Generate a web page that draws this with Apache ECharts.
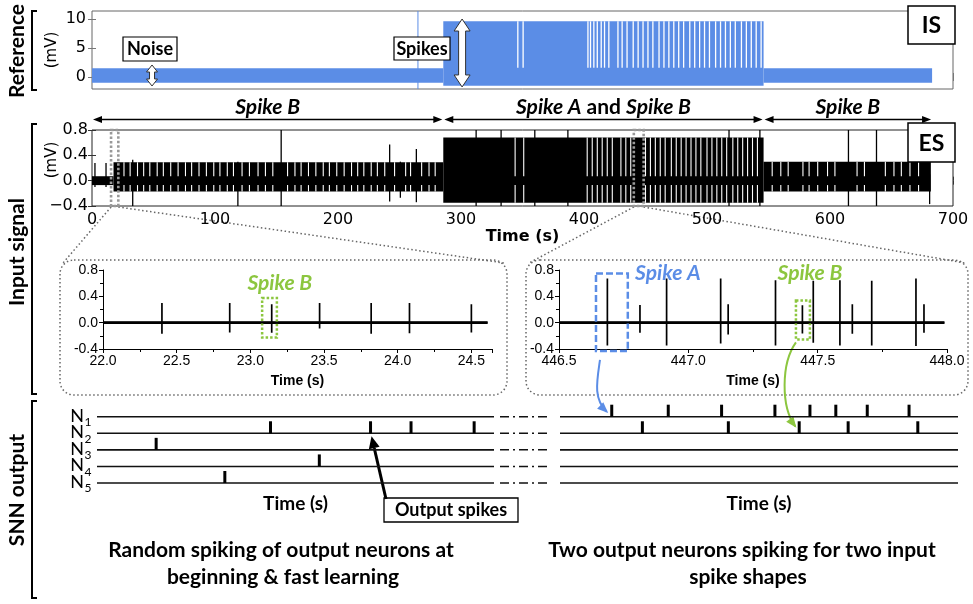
<!DOCTYPE html>
<html><head><meta charset="utf-8">
<script src="https://cdn.jsdelivr.net/npm/echarts@6/dist/echarts.min.js"></script>
<style>html,body{margin:0;padding:0;background:#fff}#c{width:973px;height:604px}</style>
</head><body><div id="c"></div>
<script>
// ================= DATA =================
// Reference signal (IS), time in s, value in mV: [tStart, tEnd, low, high]
const isNoise = [[0, 285.6, -1.0, 1.5], [546, 683, -1.0, 1.5]];
const isBurst = [[285.6, 546, -1.5, 9.6]];
const isGaps = [346.2, 350.5, 403.2, 405.3, 408.0, 410.8, 414.0, 416.7, 420.2, 427.6,
  431, 435, 440, 444, 448, 452, 456, 461, 465, 469, 473, 477, 481, 486, 490, 494,
  498, 502, 507, 511, 515, 519, 523, 528, 532, 536, 540, 544];
const isMarkers = [265];
const isArrows = [[48.8, -1.55, 2.07], [300.9, -1.72, 10.0]];   // [t, low, high]

// Electrode signal (ES), mV
const esQuiet = [[0, 17.5, -0.07, 0.07]];
const esBands = [[17.5, 285.6, -0.17, 0.29], [285.6, 546, -0.35, 0.68], [546, 682, -0.17, 0.30]];
const esGaps = [26, 31, 37, 42, 47, 53, 58, 64, 70, 76, 81, 87, 93, 99, 104, 110, 115, 122,
  128, 135, 141, 147, 159, 165, 170, 176, 182, 188, 193, 199, 205, 211, 216, 221, 227, 232,
  238, 246, 255, 259, 268, 274, 279,
  344, 351, 402.6, 406.7, 410.8, 414.8, 418.9, 423,
  430, 434, 438, 450, 454, 458, 462, 466, 471, 475, 479, 483, 487, 491, 495, 500, 504,
  508, 512, 516, 521, 525, 529, 533, 537, 541,
  553, 560, 566, 578, 583, 590, 598, 604, 622, 628, 645, 652, 658, 665, 672];
const esSpikes = [[2.4, 0.28, -0.10], [11.4, 0.28, -0.10], [33.1, 0.33, -0.40], [118.6, 0.30, -0.40],
  [153.8, 0.80, -0.40], [242, 0.57, -0.33], [250.7, 0.30, -0.27], [263.7, 0.50, -0.34],
  [312.3, 0.80, -0.40], [332.6, 0.80, -0.40], [360, 0.80, -0.40], [386.9, 0.80, -0.40],
  [517.9, 0.80, -0.40], [543, 0.80, -0.40], [615, 0.80, -0.40], [637.8, 0.80, -0.40], [681, 0.10, -0.37]];
const esZoomMarks = [[15.5, 21.4], [440.5, 448.5]];

// Input-class periods
const periodBounds = [0, 285.6, 546, 683];
const periodLabels = ['{i|Spike B}', '{i|Spike A}{n| and }{i|Spike B}', '{i|Spike B}'];

// Zoomed traces: spikes [t, peak, trough]
const zoomLRange = [22.0, 24.61];
const zoomLSpikes = [[22.40, 0.30, -0.17], [22.86, 0.30, -0.15], [23.145, 0.28, -0.155], [23.47, 0.30, -0.09],
  [23.82, 0.30, -0.17], [24.08, 0.30, -0.16], [24.50, 0.28, -0.15]];
const zoomLBoxes = [[23.08, 23.18, -0.225, 0.375]];
const zoomLLabels = [[23.20, 0.60]];
const zoomLTexts = ['Spike B'];

const zoomRRange = [446.5, 447.99];
const zoomRSpikes = [[446.687, 0.67, -0.345], [446.813, 0.27, -0.155], [446.916, 0.67, -0.345],
  [447.125, 0.67, -0.315], [447.154, 0.28, -0.18], [447.337, 0.645, -0.345], [447.441, 0.265, -0.165],
  [447.483, 0.635, -0.305], [447.586, 0.645, -0.345], [447.634, 0.28, -0.17], [447.709, 0.635, -0.345],
  [447.880, 0.67, -0.355], [447.911, 0.28, -0.155]];
const zoomRBoxes = [[446.643, 446.766, -0.43, 0.745], [447.416, 447.470, -0.255, 0.335]];
const zoomRLabels = [[446.921, 0.75], [447.47, 0.75]];
const zoomRTexts = ['Spike A', 'Spike B'];

// SNN output raster (time in arbitrary units 0-100), [t, neuron]
const neurons = [1, 2, 3, 4, 5];
const neuronNames = ['1', '2', '3', '4', '5'];
const snnRange = [0, 100];
const snnLeftSpikes = [[43.7, 2], [68.9, 2], [79.1, 2], [95.0, 2], [14.9, 3], [56.0, 4], [32.2, 5]];
const snnRightSpikes = [[13.0, 1], [27.2, 1], [40.6, 1], [54.0, 1], [62.8, 1], [69.3, 1], [77.2, 1], [87.7, 1],
  [20.7, 2], [42.3, 2], [60.1, 2], [72.4, 2], [89.9, 2]];

// ================= STYLE =================
const BLUE = '#5b8de6', GREEN = '#8cc63f';
const CAL = 'Lato';
const arrowSizes = [{shaft: 5, head: 11, len: 7}, {shaft: 7, head: 16, len: 12}];
const zoomBoxStyles = {L: [{stroke: GREEN, dash: [2.5, 2]}], R: [{stroke: BLUE, dash: [7, 3]}, {stroke: GREEN, dash: [2.5, 2]}]};
const labelColors = {L: [GREEN], R: [BLUE, GREEN]};

// ================= HELPERS =================
function rectSeries(ax, data, style, extra) {
  return Object.assign({
    type: 'custom', xAxisIndex: ax, yAxisIndex: ax, silent: true, data: data,
    encode: {x: [0, 1], y: [2, 3]},
    renderItem: function (p, api) {
      const a = api.coord([api.value(0), api.value(3)]);
      const b = api.coord([api.value(1), api.value(2)]);
      const st = typeof style === 'function' ? style(p.dataIndex) : style;
      return {type: 'rect', shape: {x: a[0], y: a[1], width: b[0] - a[0], height: b[1] - a[1]}, style: Object.assign({}, st)};
    }
  }, extra || {});
}
function vlineSeries(ax, data, style) {
  return {
    type: 'custom', xAxisIndex: ax, yAxisIndex: ax, silent: true, data: data,
    encode: {x: 0, y: [1, 2]},
    renderItem: function (p, api) {
      const a = api.coord([api.value(0), api.value(1)]);
      const b = api.coord([api.value(0), api.value(2)]);
      return {type: 'line', shape: {x1: a[0], y1: a[1], x2: b[0], y2: b[1]}, style: Object.assign({}, style)};
    }
  };
}
function traceData(range, spikes) {
  const pts = [[range[0], 0]];
  spikes.forEach(s => { pts.push([s[0], 0], [s[0], s[1]], [s[0], s[2]], [s[0], 0]); });
  pts.push([range[1], 0]);
  return pts;
}
function labelSeries(ax, data, texts, colors) {
  return {
    type: 'custom', xAxisIndex: ax, yAxisIndex: ax, silent: true, data: data, encode: {x: 0, y: 1},
    renderItem: function (p, api) {
      const c = api.coord([api.value(0), api.value(1)]);
      return {type: 'text', x: c[0], y: c[1], style: {text: texts[p.dataIndex], fill: colors[p.dataIndex],
        font: 'italic bold 21px ' + CAL, align: 'center', verticalAlign: 'middle'}};
    }
  };
}
function snnLines(ax) {
  return {
    type: 'custom', xAxisIndex: ax, yAxisIndex: ax, silent: true, data: neurons.map(n => [snnRange[0], n]),
    encode: {x: 0, y: 1},
    renderItem: function (p, api) {
      const a = api.coord([snnRange[0], api.value(1)]);
      const b = api.coord([snnRange[1], api.value(1)]);
      return {type: 'line', shape: {x1: a[0], y1: a[1], x2: b[0], y2: b[1]}, style: {stroke: '#111', lineWidth: 1.6}};
    }
  };
}
function snnSpikes(ax, data) {
  return {
    type: 'custom', xAxisIndex: ax, yAxisIndex: ax, silent: true, data: data, encode: {x: 0, y: 1},
    renderItem: function (p, api) {
      const a = api.coord([api.value(0), api.value(1)]);
      return {type: 'line', shape: {x1: a[0], y1: a[1], x2: a[0], y2: a[1] - 12}, style: {stroke: '#000', lineWidth: 3}};
    }
  };
}
function neuronLabels(ax) {
  return {
    type: 'custom', xAxisIndex: ax, yAxisIndex: ax, silent: true, data: neurons.map(n => [snnRange[0], n]),
    encode: {x: 0, y: 1},
    renderItem: function (p, api) {
      const a = api.coord([snnRange[0], api.value(1)]);
      const x = a[0] - 13, y = a[1];
      return {type: 'group', children: [
        {type: 'text', x: x, y: y - 1, style: {text: 'N', font: '18px ' + CAL, fill: '#000', align: 'right', verticalAlign: 'middle'}},
        {type: 'text', x: x + 0.5, y: y + 5.5, style: {text: neuronNames[p.dataIndex], font: '12px ' + CAL, fill: '#000', align: 'left', verticalAlign: 'middle'}}
      ]};
    }
  };
}

// derived tables
const isGapLines = isGaps.map(t => [t, 1.6, 9.6]);
const isMarkerLines = isMarkers.map(t => [t, -2.07, 11.38]);
const esGapLines = [];
esGaps.forEach(t => {
  const b = esBands.find(b => t >= b[0] && t <= b[1]);
  if (!b) return;
  esGapLines.push([t, b[3], 0.07]);
  esGapLines.push([t, -0.07, b[2]]);
});
const periods = [];
for (let i = 0; i < periodBounds.length - 1; i++) periods.push([periodBounds[i], periodBounds[i + 1]]);

// ================= AXES =================
const tickFont = {fontFamily: 'DejaVu Sans', fontSize: 16, color: '#000'};
const arialFont = {fontFamily: 'Liberation Sans', fontSize: 14, color: '#000'};
const none = {show: false};
function innerX(grid, pos, show, color) {
  return {gridIndex: grid, type: 'value', position: pos, min: 0, max: 700, interval: 100,
    axisLine: none, splitLine: none,
    axisTick: {inside: true, length: 4, lineStyle: {color: color}},
    axisLabel: show ? Object.assign({margin: 6}, tickFont) : none};
}
function zoomX(grid, min, max) {
  return {gridIndex: grid, type: 'value', min: min, max: max, interval: 0.5,
    axisLine: {show: true, onZero: false, lineStyle: {color: '#000'}}, splitLine: none,
    axisTick: {show: true, length: 4, lineStyle: {color: '#000'}},
    minorTick: {show: true, splitNumber: 2, length: 3, lineStyle: {color: '#000'}},
    axisLabel: Object.assign({margin: 5, formatter: v => v.toFixed(1)}, arialFont),
    name: 'Time (s)', nameLocation: 'middle', nameGap: 25,
    nameTextStyle: {fontFamily: 'Liberation Sans', fontWeight: 'bold', fontSize: 14, color: '#000'}};
}
function zoomY(grid) {
  return {gridIndex: grid, type: 'value', min: -0.4, max: 0.8, interval: 0.4,
    axisLine: {show: true, onZero: false, lineStyle: {color: '#000'}}, splitLine: none,
    axisTick: {show: true, length: 4, lineStyle: {color: '#000'}},
    minorTick: {show: true, splitNumber: 2, length: 3, lineStyle: {color: '#000'}},
    axisLabel: Object.assign({margin: 5, formatter: v => v.toFixed(1)}, arialFont)};
}
function snnX(grid) {
  return {gridIndex: grid, type: 'value', min: snnRange[0], max: snnRange[1], axisLine: none, axisTick: none, axisLabel: none, splitLine: none,
    name: 'Time (s)', nameLocation: 'middle', nameGap: 11, nameTextStyle: {fontFamily: CAL, fontWeight: 'bold', fontSize: 19, color: '#000'}};
}
function snnY(grid) {
  return {gridIndex: grid, type: 'value', min: 1, max: 5, interval: 1, inverse: true, axisLine: none, axisTick: none, splitLine: none, axisLabel: none};
}
const xAxes = [
  innerX(0, 'bottom', false, '#777'),
  innerX(0, 'top', false, '#777'),
  Object.assign(innerX(1, 'bottom', true, '#333'), {name: 'Time (s)', nameLocation: 'middle', nameGap: 22,
    nameTextStyle: {fontFamily: 'DejaVu Sans', fontWeight: 'bold', fontSize: 16, color: '#000'}}),
  innerX(1, 'top', false, '#333'),
  zoomX(2, 22, 24.64),
  zoomX(3, 446.5, 448.0),
  snnX(4), snnX(5)
];
const esFmt = v => (v < 0 ? '\u2212' + Math.abs(v).toFixed(1) : v.toFixed(1));
const yAxes = [
  {gridIndex: 0, type: 'value', min: -2.07, max: 11.38, axisLine: none, splitLine: none,
    axisTick: {inside: true, length: 4, customValues: [0, 5, 10], lineStyle: {color: '#777'}},
    axisLabel: Object.assign({margin: 6, customValues: [0, 5, 10]}, tickFont)},
  {gridIndex: 0, type: 'value', position: 'right', min: -2.07, max: 11.38, axisLine: none, splitLine: none,
    axisTick: {inside: true, length: 4, customValues: [0, 5, 10], lineStyle: {color: '#777'}}, axisLabel: none},
  {gridIndex: 1, type: 'value', min: -0.4, max: 0.8, interval: 0.4, axisLine: none, splitLine: none,
    axisTick: {inside: true, length: 4, lineStyle: {color: '#333'}},
    axisLabel: Object.assign({margin: 4, formatter: esFmt}, tickFont)},
  {gridIndex: 1, type: 'value', position: 'right', min: -0.4, max: 0.8, interval: 0.4, axisLine: none, splitLine: none,
    axisTick: {inside: true, length: 4, lineStyle: {color: '#333'}}, axisLabel: none},
  zoomY(2), zoomY(3),
  snnY(4), snnY(5)
];

// ================= SERIES =================
const series = [
  rectSeries(0, isNoise, {fill: BLUE}),
  rectSeries(0, isBurst, {fill: BLUE}),
  vlineSeries(0, isGapLines, {stroke: '#fff', lineWidth: 1.3}),
  vlineSeries(0, isMarkerLines, {stroke: BLUE, lineWidth: 1}),
  {type: 'custom', xAxisIndex: 0, yAxisIndex: 0, silent: true, z: 5, data: isArrows, encode: {x: 0, y: [1, 2]},
    renderItem: function (p, api) {
      const s = arrowSizes[p.dataIndex];
      const x = api.coord([api.value(0), 0])[0];
      const yT = api.coord([0, api.value(2)])[1], yB = api.coord([0, api.value(1)])[1];
      const h = s.head / 2, w = s.shaft / 2, L = s.len;
      return {type: 'polygon', shape: {points: [[x, yT], [x + h, yT + L], [x + w, yT + L], [x + w, yB - L], [x + h, yB - L], [x, yB],
        [x - h, yB - L], [x - w, yB - L], [x - w, yT + L], [x - h, yT + L]]}, style: {fill: '#fff', stroke: '#333', lineWidth: 1}};
    }},
  rectSeries(2, esQuiet.concat(esBands), {fill: '#000'}),
  vlineSeries(2, esGapLines, {stroke: '#fff', lineWidth: 1.1}),
  vlineSeries(2, esSpikes, {stroke: '#000', lineWidth: 1.3}),
  rectSeries(2, esZoomMarks.map(m => [m[0], m[1], -0.4, 0.8]), {fill: 'transparent', stroke: '#999', lineWidth: 2.6, lineDash: [2.5, 2]}, {z: 6}),
  {type: 'custom', xAxisIndex: 2, yAxisIndex: 2, silent: true, data: periods, encode: {x: [0, 1]},
    renderItem: function (p, api) {
      const a = api.coord([api.value(0), 0.8]), b = api.coord([api.value(1), 0.8]);
      const y = a[1] - 10.5, x0 = a[0] + 1, x1 = b[0] - 1;
      return {type: 'group', children: [
        {type: 'line', shape: {x1: x0 + 4, y1: y, x2: x1 - 4, y2: y}, style: {stroke: '#000', lineWidth: 1.5}},
        {type: 'polygon', shape: {points: [[x0, y], [x0 + 9, y - 3.5], [x0 + 9, y + 3.5]]}, style: {fill: '#000'}},
        {type: 'polygon', shape: {points: [[x1, y], [x1 - 9, y - 3.5], [x1 - 9, y + 3.5]]}, style: {fill: '#000'}},
        {type: 'text', x: (x0 + x1) / 2, y: y - 12, style: {text: periodLabels[p.dataIndex], align: 'center', verticalAlign: 'middle', fill: '#000',
          rich: {i: {fontFamily: CAL, fontStyle: 'italic', fontWeight: 'bold', fontSize: 21},
                 n: {fontFamily: CAL, fontWeight: 'bold', fontSize: 21}}}}
      ]};
    }},
  // zoom left
  rectSeries(4, [[zoomLRange[0], zoomLRange[1], -0.022, 0.022]], {fill: '#000'}),
  {type: 'line', xAxisIndex: 4, yAxisIndex: 4, silent: true, symbol: 'none', data: traceData(zoomLRange, zoomLSpikes),
    lineStyle: {color: '#000', width: 1.7}, animation: false},
  rectSeries(4, zoomLBoxes, i => ({fill: 'transparent', stroke: zoomBoxStyles.L[i].stroke, lineWidth: 2.5, lineDash: zoomBoxStyles.L[i].dash})),
  labelSeries(4, zoomLLabels, zoomLTexts, labelColors.L),
  // zoom right
  rectSeries(5, [[zoomRRange[0], zoomRRange[1], -0.022, 0.022]], {fill: '#000'}),
  {type: 'line', xAxisIndex: 5, yAxisIndex: 5, silent: true, symbol: 'none', data: traceData(zoomRRange, zoomRSpikes),
    lineStyle: {color: '#000', width: 1.7}, animation: false},
  rectSeries(5, zoomRBoxes, i => ({fill: 'transparent', stroke: zoomBoxStyles.R[i].stroke, lineWidth: 2.5, lineDash: zoomBoxStyles.R[i].dash})),
  labelSeries(5, zoomRLabels, zoomRTexts, labelColors.R),
  // SNN
  snnLines(6), snnSpikes(6, snnLeftSpikes), neuronLabels(6),
  snnLines(7), snnSpikes(7, snnRightSpikes)
];

const chart = echarts.init(document.getElementById('c'), null, {width: 973, height: 604});
chart.setOption({
  animation: false,
  backgroundColor: '#fff',
  grid: [
    {left: 92, top: 11, width: 861, height: 78, show: true, borderColor: '#666', borderWidth: 1},
    {left: 92, top: 130, width: 861, height: 76, show: true, borderColor: '#222', borderWidth: 1},
    {left: 103, top: 270, width: 389, height: 79},
    {left: 559, top: 270, width: 388, height: 79},
    {left: 97, top: 416.7, width: 397, height: 66.3},
    {left: 560, top: 416.7, width: 398, height: 66.3}
  ],
  xAxis: xAxes, yAxis: yAxes, series: series
});

// ================= ANNOTATIONS =================
function px(ax, p) { return chart.convertToPixel({xAxisIndex: ax, yAxisIndex: ax}, p); }
const g = [];
const txt = (x, y, text, font, extra) => Object.assign({type: 'text', x: x, y: y, silent: true,
  style: {text: text, font: font, fill: '#000', align: 'center', verticalAlign: 'middle'}}, extra || {});
// brackets + side labels
[[11, 90], [124, 394], [401, 598]].forEach(b => g.push({type: 'polyline', silent: true,
  shape: {points: [[37, b[0]], [32, b[0]], [32, b[1]], [37, b[1]]]}, style: {stroke: '#000', lineWidth: 2, fill: null}}));
g.push(txt(17, 51, 'Reference', 'bold 21px ' + CAL, {rotation: Math.PI / 2}));
g.push(txt(17, 252, 'Input signal', 'bold 21px ' + CAL, {rotation: Math.PI / 2}));
g.push(txt(17, 490, 'SNN output', 'bold 21px ' + CAL, {rotation: Math.PI / 2}));
g.push(txt(52, 50, '(mV)', '15px DejaVu Sans', {rotation: Math.PI / 2}));
g.push(txt(52, 160, '(mV)', '15px DejaVu Sans', {rotation: Math.PI / 2}));
// IS / ES tags, Noise / Spikes tags
[[908, 6, 47, 38, 'IS'], [908, 123, 47, 39, 'ES']].forEach(b => {
  g.push({type: 'rect', silent: true, z: 10, shape: {x: b[0], y: b[1], width: b[2], height: b[3]}, style: {fill: '#fff', stroke: '#000', lineWidth: 1.5}});
  g.push(txt(b[0] + b[2] / 2, b[1] + b[3] / 2 + 1, b[4], 'bold 23px ' + CAL, {z: 11}));
});
[[123, 37, 54, 24, 'Noise'], [394, 37, 56, 23, 'Spikes']].forEach(b => {
  g.push({type: 'rect', silent: true, z: 10, shape: {x: b[0], y: b[1], width: b[2], height: b[3]}, style: {fill: '#fff', stroke: '#000', lineWidth: 1.2}});
  g.push(txt(b[0] + b[2] / 2, b[1] + b[3] / 2 + 0.5, b[4], 'bold 18px ' + CAL, {z: 11}));
});
// zoom panels (rounded dotted frames) and connectors
const frameL = {x: 60, y: 260, w: 447, h: 135}, frameR = {x: 526, y: 260, w: 442, h: 135};
[frameL, frameR].forEach(f => g.push({type: 'rect', silent: true, shape: {x: f.x, y: f.y, width: f.w, height: f.h, r: 14},
  style: {fill: null, stroke: '#666', lineWidth: 1.5, lineDash: [1.5, 2.5]}}));
[[esZoomMarks[0], frameL], [esZoomMarks[1], frameR]].forEach(pair => {
  const a = px(2, [pair[0][0], -0.4]), b = px(2, [pair[0][1], -0.4]), f = pair[1];
  g.push({type: 'line', silent: true, shape: {x1: a[0], y1: a[1] + 1, x2: f.x + 3, y2: f.y + 3}, style: {stroke: '#666', lineWidth: 1.5, lineDash: [1.5, 2.5]}});
  g.push({type: 'line', silent: true, shape: {x1: b[0], y1: b[1] + 1, x2: f.x + f.w - 3, y2: f.y + 3}, style: {stroke: '#666', lineWidth: 1.5, lineDash: [1.5, 2.5]}});
});
// dash-dot breaks between SNN panels
neurons.forEach(n => {
  const a = px(6, [snnRange[1], n]), b = px(7, [snnRange[0], n]);
  g.push({type: 'line', silent: true, shape: {x1: a[0] + 6, y1: a[1], x2: b[0] - 12, y2: b[1]}, style: {stroke: '#111', lineWidth: 1.5, lineDash: [9, 4, 2, 4]}});
});
// curved arrows from zoom boxes to output spikes
function curveArrow(s, c1, c2, e, color) {
  g.push({type: 'bezierCurve', silent: true, shape: {x1: s[0], y1: s[1], cpx1: c1[0], cpy1: c1[1], cpx2: c2[0], cpy2: c2[1], x2: e[0], y2: e[1]},
    style: {stroke: color, lineWidth: 2, fill: null}});
  const dx = e[0] - c2[0], dy = e[1] - c2[1], L = Math.hypot(dx, dy), ux = dx / L, uy = dy / L;
  const bx = e[0] - ux * 9, by = e[1] - uy * 9;
  g.push({type: 'polygon', silent: true, shape: {points: [[e[0] + ux * 2, e[1] + uy * 2], [bx - uy * 4.5, by + ux * 4.5], [bx + uy * 4.5, by - ux * 4.5]]}, style: {fill: color}});
}
{
  const boxA = px(5, [zoomRBoxes[0][0], zoomRBoxes[0][2]]);
  const tipA = px(7, [snnRightSpikes[0][0], snnRightSpikes[0][1]]);
  curveArrow([boxA[0] + 4, boxA[1] + 9], [boxA[0] + 1, boxA[1] + 30], [boxA[0] - 3, tipA[1] - 18], [tipA[0] - 5, tipA[1] - 5], BLUE);
  const boxB = px(5, [zoomRBoxes[1][0], zoomRBoxes[1][2]]);
  const tipB = px(7, [snnRightSpikes[10][0], snnRightSpikes[10][1]]);
  curveArrow([boxB[0], boxB[1] + 3], [boxB[0] - 15, boxB[1] + 24], [boxB[0] - 15, tipB[1] - 26], [tipB[0] - 4, tipB[1] - 7], GREEN);
  // Output spikes callout
  const tipO = px(6, [snnLeftSpikes[1][0], snnLeftSpikes[1][1]]);
  g.push({type: 'rect', silent: true, shape: {x: 384, y: 498, width: 134, height: 24}, style: {fill: '#fff', stroke: '#000', lineWidth: 1.3}});
  g.push(txt(451, 510.5, 'Output spikes', 'bold 18px ' + CAL));
  const s = [386, 499], e = [tipO[0] + 1, tipO[1] + 3];
  const dx = e[0] - s[0], dy = e[1] - s[1], L = Math.hypot(dx, dy), ux = dx / L, uy = dy / L;
  const bx = e[0] - ux * 12, by = e[1] - uy * 12;
  g.push({type: 'line', silent: true, shape: {x1: s[0], y1: s[1], x2: bx, y2: by}, style: {stroke: '#000', lineWidth: 3}});
  g.push({type: 'polygon', silent: true, shape: {points: [[e[0], e[1]], [bx - uy * 5.5, by + ux * 5.5], [bx + uy * 5.5, by - ux * 5.5]]}, style: {fill: '#000'}});
}
// captions
g.push(txt(281, 550, 'Random spiking of output neurons at', 'bold 21px ' + CAL));
g.push(txt(283, 577, 'beginning & fast learning', 'bold 21px ' + CAL));
g.push(txt(742, 550, 'Two output neurons spiking for two input', 'bold 21px ' + CAL));
g.push(txt(748, 577, 'spike shapes', 'bold 21px ' + CAL));
chart.setOption({graphic: {elements: g}});
</script></body></html>
